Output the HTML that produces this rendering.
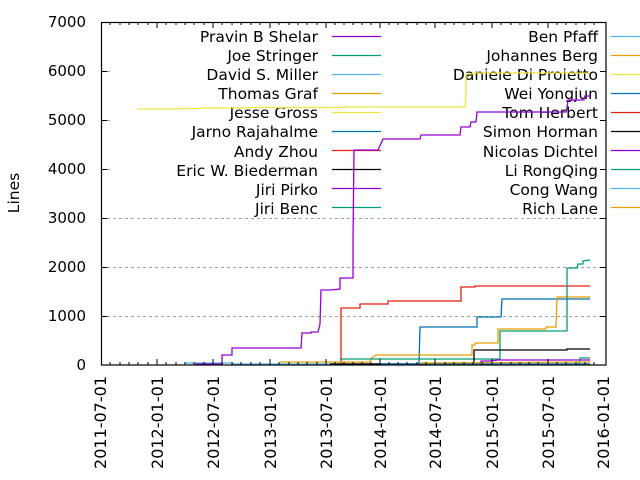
<!DOCTYPE html>
<html><head><meta charset="utf-8"><style>
html,body{margin:0;padding:0;background:#fff;}
svg{display:block;font-family:"DejaVu Sans","Liberation Sans",sans-serif;}
</style></head><body>
<svg width="640" height="480" viewBox="0 0 640 480" xmlns="http://www.w3.org/2000/svg">
<g stroke="#a0a0a0" stroke-width="1" stroke-dasharray="3,3">
<line x1="101" y1="316.5" x2="606" y2="316.5"/>
<line x1="101" y1="267.5" x2="606" y2="267.5"/>
<line x1="101" y1="218.5" x2="606" y2="218.5"/>
<line x1="101" y1="169.5" x2="113" y2="169.5"/>
<line x1="101" y1="120.5" x2="113" y2="120.5"/>
<line x1="101" y1="71.5" x2="113" y2="71.5"/>
</g>
<g font-size="15.5" fill="#000" text-anchor="end">
<text x="318" y="42">Pravin B Shelar</text>
<text x="318" y="61">Joe Stringer</text>
<text x="318" y="80">David S. Miller</text>
<text x="318" y="99">Thomas Graf</text>
<text x="318" y="118">Jesse Gross</text>
<text x="318" y="137">Jarno Rajahalme</text>
<text x="318" y="157">Andy Zhou</text>
<text x="318" y="176">Eric W. Biederman</text>
<text x="318" y="195">Jiri Pirko</text>
<text x="318" y="214">Jiri Benc</text>
<text x="598" y="42">Ben Pfaff</text>
<text x="598" y="61">Johannes Berg</text>
<text x="598" y="80">Daniele Di Proietto</text>
<text x="598" y="99">Wei Yongjun</text>
<text x="598" y="118">Tom Herbert</text>
<text x="598" y="137">Simon Horman</text>
<text x="598" y="157">Nicolas Dichtel</text>
<text x="598" y="176">Li RongQing</text>
<text x="598" y="195">Cong Wang</text>
<text x="598" y="214">Rich Lane</text>
</g>
<g stroke-width="1.3">
<line x1="332" y1="36.5" x2="381" y2="36.5" stroke="#9400d3"/>
<line x1="332" y1="55.5" x2="381" y2="55.5" stroke="#009e73"/>
<line x1="332" y1="74.5" x2="381" y2="74.5" stroke="#56b4e9"/>
<line x1="332" y1="93.5" x2="381" y2="93.5" stroke="#e69f00"/>
<line x1="332" y1="112.5" x2="381" y2="112.5" stroke="#f0e442"/>
<line x1="332" y1="131.5" x2="381" y2="131.5" stroke="#0072b2"/>
<line x1="332" y1="150.5" x2="381" y2="150.5" stroke="#e51e10"/>
<line x1="332" y1="169.5" x2="381" y2="169.5" stroke="#000"/>
<line x1="332" y1="188.5" x2="381" y2="188.5" stroke="#9400d3"/>
<line x1="332" y1="207.5" x2="381" y2="207.5" stroke="#009e73"/>
<line x1="611" y1="36.5" x2="640" y2="36.5" stroke="#56b4e9"/>
<line x1="611" y1="55.5" x2="640" y2="55.5" stroke="#e69f00"/>
<line x1="611" y1="74.5" x2="640" y2="74.5" stroke="#f0e442"/>
<line x1="611" y1="93.5" x2="640" y2="93.5" stroke="#0072b2"/>
<line x1="611" y1="112.5" x2="640" y2="112.5" stroke="#e51e10"/>
<line x1="611" y1="131.5" x2="640" y2="131.5" stroke="#000"/>
<line x1="611" y1="150.5" x2="640" y2="150.5" stroke="#9400d3"/>
<line x1="611" y1="169.5" x2="640" y2="169.5" stroke="#009e73"/>
<line x1="611" y1="188.5" x2="640" y2="188.5" stroke="#56b4e9"/>
<line x1="611" y1="207.5" x2="640" y2="207.5" stroke="#e69f00"/>
</g>
<g fill="none" stroke-width="1.3">
<polyline stroke="#f0e442" points="137,109 177,109 177,108.5 200,108.5 200,108 250,108 250,107.5 345,107.5 345,107 465,107 466,96 466,74 475,74 475,73 590,73"/>
<polyline stroke="#56b4e9" points="185,364 185,363 233,363 233,364 590,364"/>
<polyline stroke="#9400d3" points="195,364 222,364 222,355 232,355 232,348 301,348 302,333 311,333 311,332 318,332 320,324 321,290 330,290 340,289 340,278 353,278 353,240 354,150 378,150 383,139 420,139 421,135 460,135 461,127 470,127 471,122 476,122 477,112 566,112 567,108 568,100 584,100 585,96 590,96"/>
<polyline stroke="#e51e10" points="341,364 341,308 360,308 360,304 388,304 388,301 461,301 461,287 475,287 475,286 590,286"/>
<polyline stroke="#0072b2" points="330,364 419,364 420,327 477,327 477,317 501,317 502,299 590,299"/>
<polyline stroke="#e69f00" points="280,362 370,362 372,358 376,355 381,355 472,355 472,345 475,345 475,343 498,343 498,329 546,329 546,327 556,327 557,297 590,297"/>
<polyline stroke="#009e73" points="340,359 500,359 500,331 567,331 567,268 577,268 578,264 583,264 583,261 590,260"/>
<polyline stroke="#000" points="330,364 474,364 474,350 567,350 567,349 590,349"/>
<polyline stroke="#9400d3" points="480,363 481,361 490,361 498,360 590,360"/>
<polyline stroke="#009e73" points="579,364 580,358 590,358"/>
<polyline stroke="#0072b2" points="380,364 590,364"/>
<polyline stroke="#e69f00" points="420,363 590,362"/>
</g>
<rect x="101.5" y="22.5" width="504.5" height="342.5" fill="none" stroke="#000" stroke-width="1.2"/>
<g stroke="#000" stroke-width="1">
<path d="M101,316.5h6M101,267.5h6M101,218.5h6M101,169.5h6M101,120.5h6M101,71.5h6M606,316.5h-6M606,267.5h-6M606,218.5h-6M606,169.5h-6M606,120.5h-6M606,71.5h-6"/>
<path d="M157,365v-6M213,365v-6M270,365v-6M326,365v-6M380,365v-6M435,365v-6M492,365v-6M548,365v-6M157,22v6M213,22v6M270,22v6M326,22v6M380,22v6M435,22v6M492,22v6M548,22v6"/>
<path d="M110,365v-3M120,365v-3M129,365v-3M138,365v-3M148,365v-3M166,365v-3M176,365v-3M185,365v-3M194,365v-3M204,365v-3M222,365v-3M232,365v-3M241,365v-3M251,365v-3M260,365v-3M279,365v-3M289,365v-3M298,365v-3M307,365v-3M317,365v-3M335,365v-3M344,365v-3M353,365v-3M362,365v-3M371,365v-3M389,365v-3M398,365v-3M407,365v-3M417,365v-3M426,365v-3M445,365v-3M454,365v-3M464,365v-3M473,365v-3M482,365v-3M501,365v-3M511,365v-3M520,365v-3M529,365v-3M538,365v-3M557,365v-3M566,365v-3M576,365v-3M585,365v-3M594,365v-3"/>
<path d="M110,22v3M120,22v3M129,22v3M138,22v3M148,22v3M166,22v3M176,22v3M185,22v3M194,22v3M204,22v3M222,22v3M232,22v3M241,22v3M251,22v3M260,22v3M279,22v3M289,22v3M298,22v3M307,22v3M317,22v3M335,22v3M344,22v3M353,22v3M362,22v3M371,22v3M389,22v3M398,22v3M407,22v3M417,22v3M426,22v3M445,22v3M454,22v3M464,22v3M473,22v3M482,22v3M501,22v3M511,22v3M520,22v3M529,22v3M538,22v3M557,22v3M566,22v3M576,22v3M585,22v3M594,22v3"/>
</g>
<g font-size="15" fill="#000" text-anchor="end">
<text x="86" y="370">0</text>
<text x="86" y="321">1000</text>
<text x="86" y="272">2000</text>
<text x="86" y="223">3000</text>
<text x="86" y="174">4000</text>
<text x="86" y="125">5000</text>
<text x="86" y="76">6000</text>
<text x="86" y="27">7000</text>
</g>
<g font-size="16" fill="#000" text-anchor="end">
<text transform="translate(106,376) rotate(-90)">2011-07-01</text>
<text transform="translate(163,376) rotate(-90)">2012-01-01</text>
<text transform="translate(219,376) rotate(-90)">2012-07-01</text>
<text transform="translate(276,376) rotate(-90)">2013-01-01</text>
<text transform="translate(332,376) rotate(-90)">2013-07-01</text>
<text transform="translate(386,376) rotate(-90)">2014-01-01</text>
<text transform="translate(441,376) rotate(-90)">2014-07-01</text>
<text transform="translate(498,376) rotate(-90)">2015-01-01</text>
<text transform="translate(554,376) rotate(-90)">2015-07-01</text>
<text transform="translate(609,376) rotate(-90)">2016-01-01</text>
</g>
<text transform="translate(19,193) rotate(-90)" font-size="15.5" text-anchor="middle">Lines</text>
</svg>
</body></html>
